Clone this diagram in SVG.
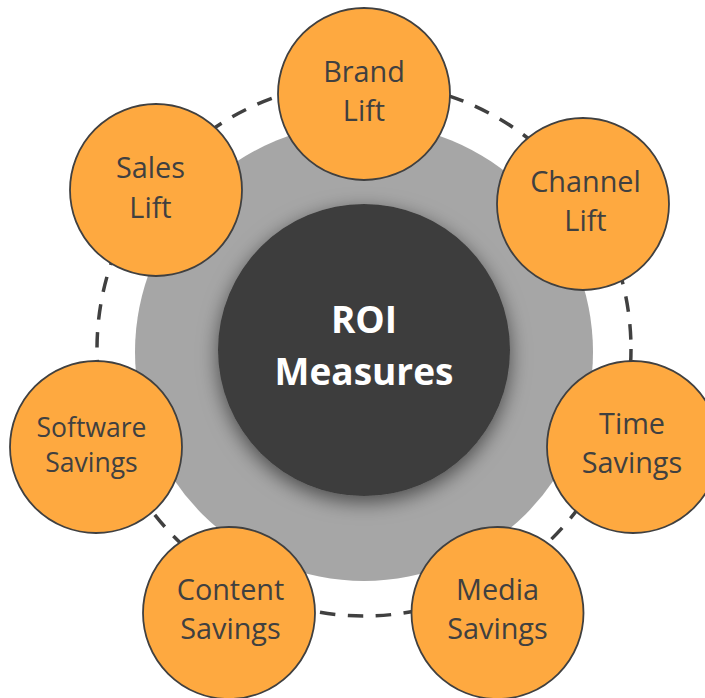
<svg xmlns="http://www.w3.org/2000/svg" width="705" height="698" viewBox="0 0 705 698">
<style>
.node circle{fill:#FEA940;stroke:#404040;stroke-width:1.8}
.node text{font-family:"Open Sans","Liberation Sans",sans-serif;font-size:28.8px;fill:#404040;text-anchor:middle}
.ring{fill:none;stroke:#404040;stroke-width:3.5;stroke-dasharray:15.5 12.5}
.hub text{font-family:"Open Sans","Liberation Sans",sans-serif;font-size:37px;font-weight:bold;fill:#FFFFFF;text-anchor:middle}
</style>
<defs>
<filter id="sh" x="-30%" y="-30%" width="160%" height="160%">
<feDropShadow dx="0" dy="6" stdDeviation="10" flood-color="#000000" flood-opacity="0.55"/>
</filter>
</defs>
<rect width="705" height="698" fill="#FFFFFF"/>
<g id="connectors">
<circle class="ring" cx="364" cy="349" r="267"/>
</g>
<g id="background-disc">
<circle cx="364" cy="352" r="229" fill="#A6A6A6"/>
</g>
<g id="hub" class="hub">
<circle cx="364" cy="350" r="146" fill="#3D3D3D" filter="url(#sh)"/>
<text x="364" y="333">ROI</text>
<text x="364" y="385">Measures</text>
</g>
<g id="brand-lift" class="node">
<circle cx="364" cy="94" r="86"/>
<text x="364" y="82">Brand</text>
<text x="364" y="121">Lift</text>
</g>
<g id="channel-lift" class="node">
<circle cx="583" cy="204" r="86"/>
<text x="585.5" y="192">Channel</text>
<text x="585.5" y="231">Lift</text>
</g>
<g id="time-savings" class="node">
<circle cx="633" cy="447" r="86"/>
<text x="632" y="434">Time</text>
<text x="632" y="473">Savings</text>
</g>
<g id="media-savings" class="node">
<circle cx="497.5" cy="613" r="86"/>
<text x="497.5" y="600">Media</text>
<text x="497.5" y="639">Savings</text>
</g>
<g id="content-savings" class="node">
<circle cx="229" cy="613" r="86"/>
<text x="230.5" y="600">Content</text>
<text x="230.5" y="639">Savings</text>
</g>
<g id="software-savings" class="node">
<circle cx="96" cy="447" r="86"/>
<text x="91.5" y="437" style="font-size:26.5px">Software</text>
<text x="91.5" y="472" style="font-size:26.5px">Savings</text>
</g>
<g id="sales-lift" class="node">
<circle cx="156" cy="190" r="86"/>
<text x="150.5" y="178">Sales</text>
<text x="150.5" y="218">Lift</text>
</g>
</svg>
